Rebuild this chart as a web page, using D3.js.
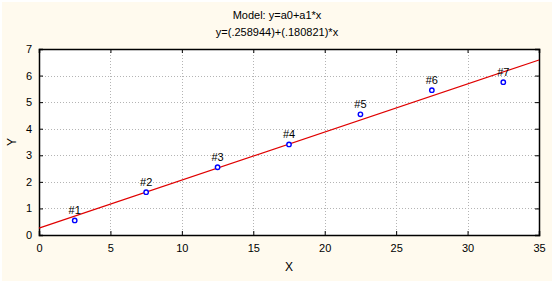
<!DOCTYPE html>
<html>
<head>
<meta charset="utf-8">
<script src="https://cdn.jsdelivr.net/npm/d3@7"></script>
<style>
  body { margin: 0; background: #ffffff; }
  svg text { font-family: "Liberation Sans", Arial, sans-serif; font-size: 11px; fill: #000; }
</style>
</head>
<body>
<div id="chart"></div>
<script>
// data
const labels = ["#1", "#2", "#3", "#4", "#5", "#6", "#7"];
const xValues = [2.5, 7.5, 12.5, 17.5, 22.5, 27.5, 32.5];
const yValues = [0.55, 1.61, 2.55, 3.41, 4.54, 5.45, 5.75];
const a0 = 0.258944, a1 = 0.180821;
const xTicks = [0, 5, 10, 15, 20, 25, 30, 35];
const yTicks = [0, 1, 2, 3, 4, 5, 6, 7];
const titleLines = ["Model: y=a0+a1*x", "y=(.258944)+(.180821)*x"];

const W = 554, H = 283;
const margin = {top: 49, right: 15, bottom: 48, left: 39};
const width = W - margin.left - margin.right;
const height = H - margin.top - margin.bottom;

const svg = d3.select("#chart").append("svg")
    .attr("width", W)
    .attr("height", H);

// cream panel with thin white border
svg.append("rect")
    .attr("x", 2).attr("y", 2)
    .attr("width", W - 4).attr("height", H - 4)
    .attr("fill", "#fffaee");

const x = d3.scaleLinear().domain([0, 35]).range([0, width]);
const y = d3.scaleLinear().domain([0, 7]).range([height, 0]);

const g = svg.append("g")
    .attr("transform", "translate(" + margin.left + "," + margin.top + ")");

g.append("rect")
    .attr("width", width).attr("height", height)
    .attr("fill", "#fff");

// dotted grid
g.selectAll(".vgrid")
    .data(xTicks.slice(1, -1))
    .enter().append("line")
    .attr("x1", d => Math.round(x(d)) + 0.5).attr("x2", d => Math.round(x(d)) + 0.5)
    .attr("y1", 0).attr("y2", height)
    .attr("stroke", "#b4b4b4")
    .attr("stroke-dasharray", "1,2");

g.selectAll(".hgrid")
    .data(yTicks.slice(1, -1))
    .enter().append("line")
    .attr("y1", d => Math.round(y(d)) + 0.5).attr("y2", d => Math.round(y(d)) + 0.5)
    .attr("x1", 0).attr("x2", width)
    .attr("stroke", "#b4b4b4")
    .attr("stroke-dasharray", "1,2");

// axes with inward ticks
g.append("g")
    .attr("transform", "translate(0," + height + ")")
    .call(d3.axisBottom(x).tickValues(xTicks).tickSize(-4).tickPadding(9).tickFormat(d3.format("d")));
g.append("g")
    .call(d3.axisLeft(y).tickValues(yTicks).tickSize(-4).tickPadding(7).tickFormat(d3.format("d")));
g.append("g")
    .call(d3.axisTop(x).tickValues(xTicks).tickSize(-4).tickFormat(""));
g.append("g")
    .attr("transform", "translate(" + width + ",0)")
    .call(d3.axisRight(y).tickValues(yTicks).tickSize(-4).tickFormat(""));

g.selectAll(".domain").attr("stroke", "#000").attr("stroke-width", 1.5);
g.selectAll(".tick line").attr("stroke", "#000");
g.selectAll(".tick text").style("font-size", "11px").attr("fill", "#000");

// regression line
g.append("path")
    .datum([0, 35])
    .attr("fill", "none")
    .attr("stroke", "#e00000")
    .attr("stroke-width", 1.2)
    .attr("d", d3.line().x(d => x(d)).y(d => y(a0 + a1 * d)));

// points
g.selectAll(".pt")
    .data(xValues)
    .enter().append("circle")
    .attr("cx", d => x(d))
    .attr("cy", (d, i) => y(yValues[i]))
    .attr("r", 2.2)
    .attr("fill", "#fff")
    .attr("stroke", "#0000ff")
    .attr("stroke-width", 1.4);

g.selectAll(".lbl")
    .data(labels)
    .enter().append("text")
    .attr("x", (d, i) => x(xValues[i]))
    .attr("y", (d, i) => y(yValues[i]) - 6)
    .attr("text-anchor", "middle")
    .text(d => d);

// titles
svg.selectAll(".title")
    .data(titleLines)
    .enter().append("text")
    .attr("x", 277)
    .attr("y", (d, i) => 19 + i * 17)
    .attr("text-anchor", "middle")
    .text(d => d);

svg.append("text")
    .attr("x", margin.left + width / 2)
    .attr("y", 271)
    .attr("text-anchor", "middle")
    .style("font-size", "12px")
    .text("X");

svg.append("text")
    .attr("transform", "translate(16," + (margin.top + height / 2) + ") rotate(-90)")
    .attr("text-anchor", "middle")
    .style("font-size", "12px")
    .text("Y");
</script>
</body>
</html>
